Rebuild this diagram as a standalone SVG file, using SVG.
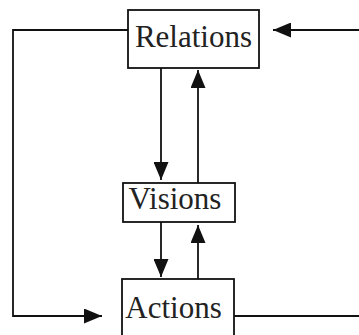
<svg xmlns="http://www.w3.org/2000/svg" width="359" height="335" viewBox="0 0 359 335">
  <defs>
    <marker id="ah" viewBox="0 0 18 15" refX="18" refY="7.5" markerWidth="18" markerHeight="15" markerUnits="userSpaceOnUse" orient="auto">
      <path d="M0,0 L18,7.5 L0,15 Z" fill="#111"/>
    </marker>
  </defs>
  <style>
    .box { fill: #fff; stroke: #111; stroke-width: 1.8; }
    .lbl { font-family: "Liberation Serif", "Times New Roman", serif; font-size: 31px; fill: #222; }
    .ln { fill: none; stroke: #111; stroke-width: 1.8; }
  </style>
  <rect width="359" height="335" fill="#fff"/>
  <g id="connectors">
    <polyline class="ln" points="128,30 13,30 13,316 102,316" marker-end="url(#ah)"/>
    <line class="ln" x1="359" y1="30" x2="273" y2="30" marker-end="url(#ah)"/>
    <line class="ln" x1="234" y1="316" x2="359" y2="316"/>
    <line class="ln" x1="161" y1="68" x2="161" y2="180" marker-end="url(#ah)"/>
    <line class="ln" x1="198" y1="183" x2="198" y2="70" marker-end="url(#ah)"/>
    <line class="ln" x1="161" y1="222" x2="161" y2="277" marker-end="url(#ah)"/>
    <line class="ln" x1="198" y1="279" x2="198" y2="225" marker-end="url(#ah)"/>
  </g>
  <g id="relations">
    <rect class="box" x="128" y="10" width="131" height="58"/>
    <text class="lbl" x="193.5" y="47" text-anchor="middle">Relations</text>
  </g>
  <g id="visions">
    <rect class="box" x="123" y="183" width="112" height="39"/>
    <text class="lbl" x="175" y="209" text-anchor="middle">Visions</text>
  </g>
  <g id="actions">
    <rect class="box" x="122" y="279" width="112" height="70"/>
    <text class="lbl" x="173.5" y="318" text-anchor="middle">Actions</text>
  </g>
</svg>
